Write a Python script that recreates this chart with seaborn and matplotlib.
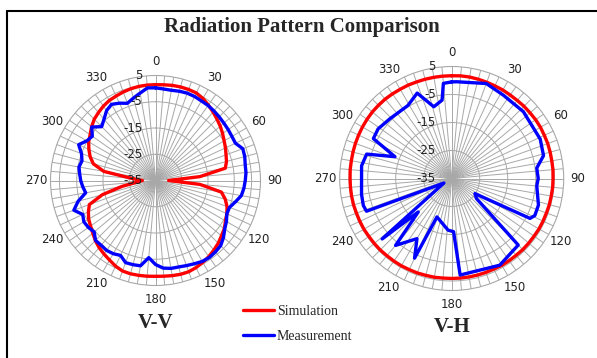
import numpy as np
import matplotlib.pyplot as plt
import seaborn as sns
from matplotlib.lines import Line2D
from matplotlib.transforms import offset_copy

sns.set_theme(style='white')
plt.rcParams['font.family'] = ['DejaVu Sans']

# angles of the pattern samples (degrees, clockwise from top)
angles = list(range(0, 360, 5))

# V-V pattern (dB)
vv_sim = [1.5, 1.6, 1.8, 1.9, 1.9, 1.8, 1.1, 0.1, -0.9, -1.9,
          -2.8, -3.8, -4.8, -5.6, -6.4, -7.0, -8.0, -18.0, -30.0, -18.0,
          -9.5, -7.5, -6.0, -5.0, -4.2, -3.0, -2.2, -1.2, -0.4, 0.4,
          1.0, 1.6, 2.0, 2.0, 1.8, 1.6, 1.5, 1.6, 1.7, 1.8,
          1.7, 1.0, 0.0, -0.8, -1.6, -2.6, -3.8, -4.8, -5.6, -6.8,
          -8.2, -14.0, -22.0, -28.0, -30.0, -26.0, -15.0, -10.5, -8.5, -7.0,
          -5.6, -4.6, -3.2, -2.0, -1.2, -0.4, 0.2, 0.5, 0.9, 1.2,
          1.4, 1.5]
vv_meas = [0.3, 0.0, -0.1, 0.2, 0.4, 0.3, 0.0, -0.1, -0.4, -0.7,
           -1.0, -1.2, -1.4, -1.4, 0.4, 0.2, -0.3, -0.4, -0.8, -1.2,
           -1.8, -3.5, -5.0, -5.0, -3.8, -2.8, -1.2, 0.1, 0.5, 0.8,
           0.6, 0.0, -0.5, -0.9, -1.0, -1.5, -3.0, -5.5, -2.0, -1.8,
           -1.7, -3.5, -2.8, -2.5, -2.8, -2.7, -4.5, -3.8, -3.5, -4.4,
           -1.9, -4.5, -8.0, -7.2, -6.5, -6.0, -5.4, -6.0, -5.0, -2.7,
           -4.8, -5.6, -3.3, -6.0, -4.5, -2.5, -1.5, -2.5, -3.7, -2.5,
           -1.2, 0.4]

# V-H pattern (dB)
vh_sim = [1.7, 1.8, 1.8, 1.7, 1.6, 1.5, 1.5, 1.4, 1.4, 1.5,
          1.5, 1.6, 1.6, 1.5, 1.5, 1.4, 1.3, 1.3, 1.2, 1.2,
          1.1, 1.1, 1.0, 1.0, 1.0, 0.9, 0.9, 0.9, 0.8, 0.8,
          0.8, 0.7, 0.7, 0.7, 0.7, 0.7, 0.7, 0.7, 0.8, 0.8,
          0.9, 0.9, 1.0, 1.0, 1.0, 1.1, 1.1, 1.1, 1.2, 1.2,
          1.2, 1.3, 1.3, 1.3, 1.3, 1.4, 1.4, 1.5, 1.6, 1.7,
          1.8, 1.9, 2.0, 2.0, 2.0, 1.9, 1.8, 1.8, 1.7, 1.7,
          1.7, 1.7]
vh_meas_deg = [0, 3, 20, 32, 47, 66, 76, 83, 90, 95,
               107, 114, 117, 123, 129, 135, 151, 175, 178, 184,
               201, 205, 210, 220, 225, 229, 240, 249, 253, 260,
               278, 286, 291, 297, 304, 314, 329, 338, 346, 353, 355]
vh_meas = [-0.5, -0.4, 1.1, 0.0, 0.0, -0.4, -1.2, -4.4, -4.1, -4.5,
           -2.6, -2.5, -3.6, -25.1, -23.6, -1.4, 0.4, -0.4, -16.0, -16.5,
           -20.3, -3.6, -10.2, -3.8, -18.1, -2.1, -31.8, -2.4, -2.0, -2.3,
           -2.5, -3.4, -13.3, -3.6, -3.3, -4.3, -4.6, -2.1, -8.6, -6.8, -0.9]

ring_values = [5, -5, -15, -25, -35]
grid_color = '#a8a8a8'


def closed(deg, vals):
    deg = list(deg) + [deg[0] + 360]
    vals = list(vals) + [vals[0]]
    return np.deg2rad(deg), np.array(vals)


def setup_polar(ax, label_dx):
    ax.set_theta_zero_location('N')
    ax.set_theta_direction(-1)
    ax.set_ylim(-35, 5)
    ax.set_yticks([-25, -15, -5, 1.6])
    ax.set_yticklabels([])
    ax.set_xticks(np.deg2rad(angles))
    ax.set_xticklabels(['' if a % 30 else str(a) for a in angles])
    ax.tick_params(axis='x', length=0, pad=3, labelsize=8.5, labelcolor='#222222')
    ax.grid(True, color=grid_color, lw=0.7)
    ax.spines['polar'].set_color(grid_color)
    ax.spines['polar'].set_linewidth(0.8)
    ax.set_facecolor('white')
    tr = offset_copy(ax.transData, fig=ax.figure, x=label_dx, y=0, units='dots')
    for v in ring_values:
        ax.text(0, v, str(v), transform=tr, ha='right', va='center',
                fontsize=8.5, color='#222222')


fig = plt.figure(figsize=(5.97, 3.58), dpi=100)
fig.patch.set_facecolor('white')

ax1 = fig.add_axes([50.5 / 597, 1 - 285.5 / 358, 210 / 597, 210 / 358], projection='polar')
ax2 = fig.add_axes([339.7 / 597, 1 - 290.5 / 358, 224 / 597, 224 / 358], projection='polar')

setup_polar(ax1, -13)
setup_polar(ax2, -16)

t, r = closed(angles, vv_sim)
sns.lineplot(x=t, y=r, ax=ax1, sort=False, estimator=None, color='#ff0000', lw=2.4)
t, r = closed(angles, vv_meas)
sns.lineplot(x=t, y=r, ax=ax1, sort=False, estimator=None, color='#0000ff', lw=2.4)
t, r = closed(angles, vh_sim)
sns.lineplot(x=t, y=r, ax=ax2, sort=False, estimator=None, color='#ff0000', lw=2.4)
t, r = closed(vh_meas_deg, vh_meas)
sns.lineplot(x=t, y=r, ax=ax2, sort=False, estimator=None, color='#0000ff', lw=2.4)

for ax in (ax1, ax2):
    ax.set_xlabel('')
    ax.set_ylabel('')

serif = 'Liberation Serif'
fig.text(302 / 597, 1 - 27 / 358, 'Radiation Pattern Comparison', ha='center', va='center',
         fontfamily=serif, fontweight='bold', fontsize=15)
fig.text(155.5 / 597, 1 - 323 / 358, 'V-V', ha='center', va='center',
         fontfamily=serif, fontweight='bold', fontsize=15)
fig.text(451.7 / 597, 1 - 327 / 358, 'V-H', ha='center', va='center',
         fontfamily=serif, fontweight='bold', fontsize=15)

handles = [Line2D([], [], color='#ff0000', lw=2.4), Line2D([], [], color='#0000ff', lw=2.4)]
fig.legend(handles, ['Simulation', 'Measurement'], loc='upper left',
           bbox_to_anchor=(243 / 597, 1 - 305 / 358), frameon=False,
           prop={'family': serif, 'size': 10}, handlelength=2.2, handletextpad=0.25,
           labelspacing=0.85, borderpad=0, borderaxespad=0)

# frame edges of the original slide
fig.add_artist(Line2D([7 / 597, 1], [1 - 11 / 358, 1 - 11 / 358], transform=fig.transFigure,
                      color='black', lw=1.5))
fig.add_artist(Line2D([7 / 597, 7 / 597], [0, 1 - 11 / 358], transform=fig.transFigure,
                      color='black', lw=1.5))

fig.savefig('out.png', dpi=100, facecolor='white')
